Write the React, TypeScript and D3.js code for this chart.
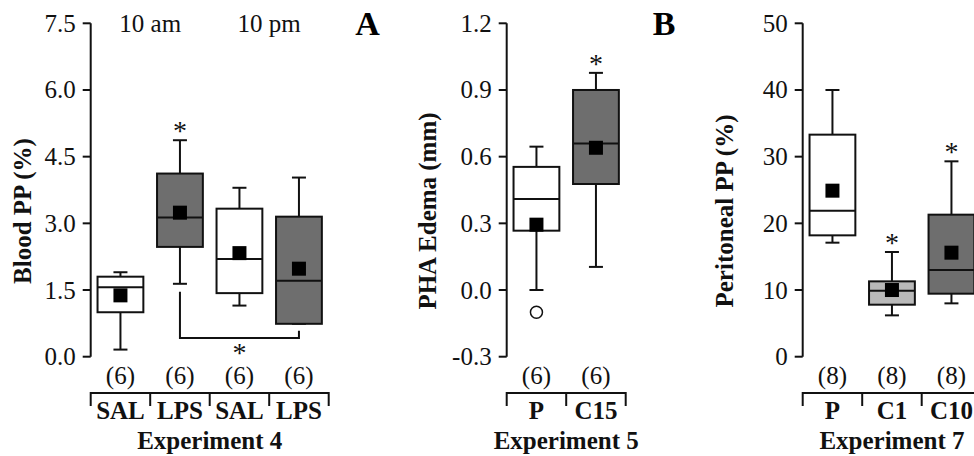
import React from "react";
import * as d3 from "d3";

// Experiment 4 – blood PP
const exp4Groups = ["SAL", "LPS", "SAL", "LPS"];
const exp4N = ["(6)", "(6)", "(6)", "(6)"];
const exp4WhiskerHigh = [1.9, 4.87, 3.8, 4.03];
const exp4Q3 = [1.8, 4.12, 3.33, 3.15];
const exp4Median = [1.56, 3.13, 2.2, 1.71];
const exp4Q1 = [1.0, 2.47, 1.43, 0.74];
const exp4WhiskerLow = [0.16, 1.64, 1.15, 0.74];
const exp4Mean = [1.38, 3.24, 2.33, 1.98];
const exp4Fill = ["white", "dark", "white", "dark"];
const exp4Star = [false, true, false, false];
const exp4Ticks = [0, 1.5, 3.0, 4.5, 6.0, 7.5];
const exp4Times = [
  { label: "10 am", from: 0, to: 1 },
  { label: "10 pm", from: 2, to: 3 },
];
const exp4Bracket = { from: 1, to: 3, level: 0.42 };

// Experiment 5 – PHA edema
const exp5Groups = ["P", "C15"];
const exp5N = ["(6)", "(6)"];
const exp5WhiskerHigh = [0.645, 0.977];
const exp5Q3 = [0.554, 0.9];
const exp5Median = [0.41, 0.659];
const exp5Q1 = [0.267, 0.477];
const exp5WhiskerLow = [0.0, 0.104];
const exp5Mean = [0.294, 0.64];
const exp5Fill = ["white", "dark"];
const exp5Star = [false, true];
const exp5Outliers = [{ group: 0, value: -0.1 }];
const exp5Ticks = [-0.3, 0.0, 0.3, 0.6, 0.9, 1.2];

// Experiment 7 – peritoneal PP
const exp7Groups = ["P", "C1", "C10"];
const exp7N = ["(8)", "(8)", "(8)"];
const exp7WhiskerHigh = [40.0, 15.7, 29.3];
const exp7Q3 = [33.3, 11.3, 21.3];
const exp7Median = [21.9, 9.9, 13.0];
const exp7Q1 = [18.2, 7.8, 9.45];
const exp7WhiskerLow = [17.1, 6.2, 8.0];
const exp7Mean = [24.9, 10.0, 15.6];
const exp7Fill = ["white", "light", "dark"];
const exp7Star = [false, true, true];
const exp7Ticks = [0, 10, 20, 30, 40, 50];

const FONT = "'Liberation Serif', 'Times New Roman', serif";
const INK = "#111";
const FILLS: Record<string, string> = { white: "#fff", light: "#b9b9b9", dark: "#6e6e6e" };

const Y_TOP = 23.3;
const Y_BOTTOM = 356.7;
const STEP = 59.5;

type PanelProps = {
  axisX: number;
  domain: [number, number];
  ticks: number[];
  fmt: (v: number) => string;
  groups: string[];
  n: string[];
  wHigh: number[];
  q3: number[];
  median: number[];
  q1: number[];
  wLow: number[];
  mean: number[];
  fill: string[];
  star: boolean[];
  yLabel: string;
  yLabelX: number;
  xLabel: string;
  outliers?: { group: number; value: number }[];
  times?: { label: string; from: number; to: number }[];
  bracket?: { from: number; to: number; level: number };
};

function Panel(p: PanelProps) {
  const y = d3.scaleLinear().domain(p.domain).range([Y_BOTTOM, Y_TOP]);
  const x = d3
    .scaleBand<number>()
    .domain(p.groups.map((_, i) => i))
    .range([p.axisX, p.axisX + p.groups.length * STEP])
    .padding(0);
  const step = x.step();
  const boxW = step * 0.77;
  const capW = 14;
  const cx = (i: number) => (x(i) as number) + step / 2;
  const [r0, r1] = x.range();

  let bracketPath: string | null = null;
  if (p.bracket) {
    const b = p.bracket;
    const by = y(b.level);
    const line = d3.line();
    bracketPath = line([
      [cx(b.from), y(p.wLow[b.from]) + 8],
      [cx(b.from), by],
      [cx(b.to), by],
      [cx(b.to), y(p.q1[b.to]) + 7],
    ]);
  }

  return (
    <g fontFamily={FONT} fill={INK}>
      {/* y axis */}
      <line x1={p.axisX} x2={p.axisX} y1={Y_TOP} y2={Y_BOTTOM} stroke={INK} strokeWidth={2} />
      {p.ticks.map((t) => (
        <g key={t}>
          <line x1={p.axisX - 8} x2={p.axisX} y1={y(t)} y2={y(t)} stroke={INK} strokeWidth={2} />
          <text x={p.axisX - 15} y={y(t) + 8.5} textAnchor="end" fontSize={25}>
            {p.fmt(t)}
          </text>
        </g>
      ))}
      <text
        transform={`translate(${p.yLabelX},${(Y_TOP + Y_BOTTOM) / 2 + 21}) rotate(-90)`}
        textAnchor="middle"
        fontSize={25}
        fontWeight="bold"
      >
        {p.yLabel}
      </text>

      {/* boxes */}
      {p.groups.map((_, i) => {
        const c = cx(i);
        return (
          <g key={i} stroke={INK} strokeWidth={2}>
            <line x1={c} x2={c} y1={y(p.q3[i])} y2={y(p.wHigh[i])} />
            <line x1={c - capW / 2} x2={c + capW / 2} y1={y(p.wHigh[i])} y2={y(p.wHigh[i])} />
            <line x1={c} x2={c} y1={y(p.q1[i])} y2={y(p.wLow[i])} />
            <line x1={c - capW / 2} x2={c + capW / 2} y1={y(p.wLow[i])} y2={y(p.wLow[i])} />
            <rect
              x={c - boxW / 2}
              y={y(p.q3[i])}
              width={boxW}
              height={y(p.q1[i]) - y(p.q3[i])}
              fill={FILLS[p.fill[i]]}
            />
            <line x1={c - boxW / 2} x2={c + boxW / 2} y1={y(p.median[i])} y2={y(p.median[i])} />
            <rect x={c - 7} y={y(p.mean[i]) - 7} width={14} height={14} fill="#000" stroke="none" />
            {p.star[i] && (
              <text x={c} y={y(p.wHigh[i])} textAnchor="middle" fontSize={28} stroke="none" fill={INK}>
                *
              </text>
            )}
          </g>
        );
      })}

      {(p.outliers || []).map((o, k) => (
        <circle key={k} cx={cx(o.group)} cy={y(o.value)} r={6} fill="#fff" stroke={INK} strokeWidth={1.5} />
      ))}

      {bracketPath && (
        <g>
          <path d={bracketPath} fill="none" stroke={INK} strokeWidth={2} />
          <text
            x={(cx(p.bracket!.from) + cx(p.bracket!.to)) / 2}
            y={y(p.bracket!.level) + 24}
            textAnchor="middle"
            fontSize={28}
          >
            *
          </text>
        </g>
      )}

      {(p.times || []).map((t) => (
        <text key={t.label} x={(cx(t.from) + cx(t.to)) / 2} y={32} textAnchor="middle" fontSize={25}>
          {t.label}
        </text>
      ))}

      {/* n labels and category axis */}
      {p.n.map((s, i) => (
        <text key={i} x={cx(i)} y={384} textAnchor="middle" fontSize={25}>
          {s}
        </text>
      ))}
      <line x1={r0} x2={r1} y1={393} y2={393} stroke={INK} strokeWidth={2} />
      {d3.range(p.groups.length + 1).map((k) => (
        <line key={k} x1={r0 + k * step} x2={r0 + k * step} y1={392} y2={406} stroke={INK} strokeWidth={2} />
      ))}
      {p.groups.map((g, i) => (
        <text key={i} x={cx(i)} y={419} textAnchor="middle" fontSize={25} fontWeight="bold">
          {g}
        </text>
      ))}
      <text x={(r0 + r1) / 2} y={449} textAnchor="middle" fontSize={25} fontWeight="bold">
        {p.xLabel}
      </text>
    </g>
  );
}

const fmt1 = (v: number) => d3.format(".1f")(v).replace("\u2212", "-");
const fmt0 = (v: number) => d3.format("d")(v);

export default function App() {
  return (
    <svg
      width={974}
      height={456}
      style={{ position: "absolute", left: 0, top: 0, background: "#fff" }}
    >
      <Panel
        axisX={90.7}
        domain={[0, 7.5]}
        ticks={exp4Ticks}
        fmt={fmt1}
        groups={exp4Groups}
        n={exp4N}
        wHigh={exp4WhiskerHigh}
        q3={exp4Q3}
        median={exp4Median}
        q1={exp4Q1}
        wLow={exp4WhiskerLow}
        mean={exp4Mean}
        fill={exp4Fill}
        star={exp4Star}
        yLabel="Blood PP (%)"
        yLabelX={31}
        xLabel="Experiment 4"
        times={exp4Times}
        bracket={exp4Bracket}
      />
      <Panel
        axisX={506.7}
        domain={[-0.3, 1.2]}
        ticks={exp5Ticks}
        fmt={fmt1}
        groups={exp5Groups}
        n={exp5N}
        wHigh={exp5WhiskerHigh}
        q3={exp5Q3}
        median={exp5Median}
        q1={exp5Q1}
        wLow={exp5WhiskerLow}
        mean={exp5Mean}
        fill={exp5Fill}
        star={exp5Star}
        outliers={exp5Outliers}
        yLabel="PHA Edema (mm)"
        yLabelX={436}
        xLabel="Experiment 5"
      />
      <Panel
        axisX={802.7}
        domain={[0, 50]}
        ticks={exp7Ticks}
        fmt={fmt0}
        groups={exp7Groups}
        n={exp7N}
        wHigh={exp7WhiskerHigh}
        q3={exp7Q3}
        median={exp7Median}
        q1={exp7Q1}
        wLow={exp7WhiskerLow}
        mean={exp7Mean}
        fill={exp7Fill}
        star={exp7Star}
        yLabel="Peritoneal PP (%)"
        yLabelX={733}
        xLabel="Experiment 7"
      />
      <text x={367.5} y={35} textAnchor="middle" fontFamily={FONT} fontSize={34} fontWeight="bold" fill="#000">
        A
      </text>
      <text x={664} y={35} textAnchor="middle" fontFamily={FONT} fontSize={34} fontWeight="bold" fill="#000">
        B
      </text>
    </svg>
  );
}
